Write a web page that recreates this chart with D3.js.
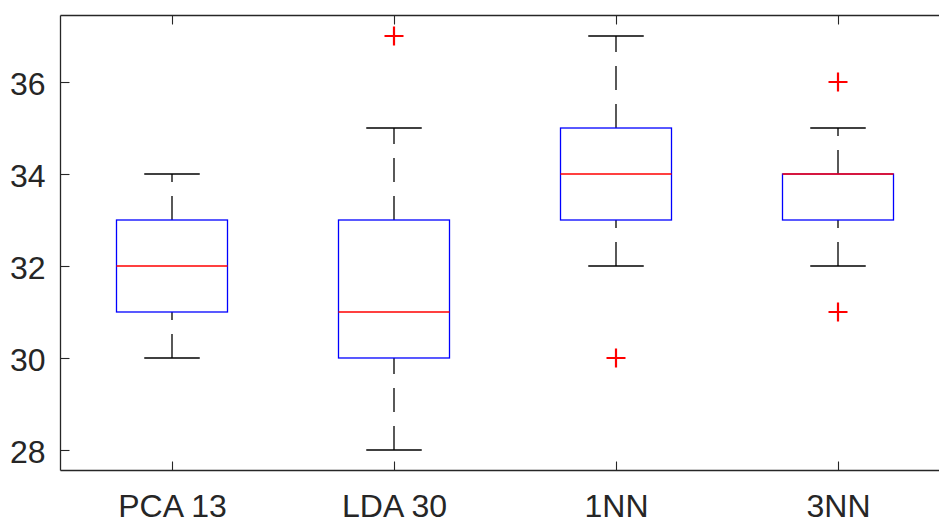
<!DOCTYPE html>
<html>
<head>
<meta charset="utf-8">
<script src="https://cdn.jsdelivr.net/npm/d3@7"></script>
<style>
  html, body { margin: 0; padding: 0; background: #fff; }
  svg { display: block; }
</style>
</head>
<body>
<svg id="chart" width="939" height="518"></svg>
<script>
// ---- data ----
const categories = ["PCA 13", "LDA 30", "1NN", "3NN"];
const whiskerLow = [30, 28, 32, 32];
const q1Values = [31, 30, 33, 33];
const medians = [32, 31, 34, 34];
const q3Values = [33, 33, 35, 34];
const whiskerHigh = [34, 35, 37, 35];
const outliers = [[], [37], [30], [36, 31]];
const yTicks = [28, 30, 32, 34, 36];
const yDomain = [27.554, 37.446];

(function () {
const svg = d3.select("#chart");
const mLeft = 61, mRight = 949, mTop = 15.5, mBottom = 470.5;
const axisColor = "#262626";
const font = "'Liberation Sans', Arial, Helvetica, sans-serif";

const x = d3.scaleLinear().domain([0.5, categories.length + 0.5]).range([mLeft, mRight]);
const y = d3.scaleLinear().domain(yDomain).range([mBottom, mTop]);
const boxHalf = 0.25, capHalf = 0.125;

const data = categories.map((c, i) => ({
  name: c, pos: i + 1,
  lo: whiskerLow[i], q1: q1Values[i], med: medians[i], q3: q3Values[i], hi: whiskerHigh[i],
  out: outliers[i]
}));

// axes
const gx = svg.append("g").attr("transform", `translate(0,${mBottom})`)
  .call(d3.axisBottom(x).tickValues(data.map(d => d.pos)).tickFormat((d, i) => categories[i])
    .tickSizeInner(-9).tickSizeOuter(0).tickPadding(23.5));
const gxTop = svg.append("g").attr("transform", `translate(0,${mTop})`)
  .call(d3.axisTop(x).tickValues(data.map(d => d.pos)).tickFormat("")
    .tickSizeInner(-9).tickSizeOuter(0));
const gy = svg.append("g").attr("transform", `translate(${mLeft - 0.5},0)`)
  .call(d3.axisLeft(y).tickValues(yTicks).tickFormat(d3.format("d"))
    .tickSizeInner(-9).tickSizeOuter(0).tickPadding(15));

[gx, gxTop, gy].forEach(g => {
  g.selectAll(".domain").remove();
  g.selectAll(".tick line").attr("stroke", axisColor).attr("stroke-width", 1.1);
  g.selectAll(".tick text").attr("fill", axisColor)
    .style("font-family", font).style("font-size", "32px");
});
gy.selectAll(".tick text").attr("dy", "0.38em");

// axis frame lines (left, top, bottom)
const frame = svg.append("g").attr("stroke", axisColor).attr("stroke-width", 1.3).attr("fill", "none");
frame.append("line").attr("x1", mLeft - 0.5).attr("x2", mLeft - 0.5).attr("y1", mTop).attr("y2", mBottom);
frame.append("line").attr("x1", mLeft - 0.5).attr("x2", 939).attr("y1", mTop).attr("y2", mTop);
frame.append("line").attr("x1", mLeft - 0.5).attr("x2", 939).attr("y1", mBottom).attr("y2", mBottom);

// boxes
const g = svg.append("g");
const box = g.selectAll("g.box").data(data).join("g").attr("class", "box");

// whiskers (dashed, drawn from lower value to higher value)
box.append("line")
  .attr("x1", d => x(d.pos)).attr("x2", d => x(d.pos))
  .attr("y1", d => y(d.lo)).attr("y2", d => y(d.q1))
  .attr("stroke", "#000").attr("stroke-width", 1.3).attr("stroke-dasharray", "24,14");
box.append("line")
  .attr("x1", d => x(d.pos)).attr("x2", d => x(d.pos))
  .attr("y1", d => y(d.q3)).attr("y2", d => y(d.hi))
  .attr("stroke", "#000").attr("stroke-width", 1.3).attr("stroke-dasharray", "24,14");
// caps
["lo", "hi"].forEach(k => {
  box.append("line")
    .attr("x1", d => x(d.pos - capHalf)).attr("x2", d => x(d.pos + capHalf))
    .attr("y1", d => y(d[k])).attr("y2", d => y(d[k]))
    .attr("stroke", "#000").attr("stroke-width", 1.3);
});
// box rect
box.append("rect")
  .attr("x", d => x(d.pos - boxHalf)).attr("width", d => x(d.pos + boxHalf) - x(d.pos - boxHalf))
  .attr("y", d => y(d.q3)).attr("height", d => y(d.q1) - y(d.q3))
  .attr("fill", "none").attr("stroke", "#0000ff").attr("stroke-width", 1.3);
// median
box.append("line")
  .attr("x1", d => x(d.pos - boxHalf)).attr("x2", d => x(d.pos + boxHalf))
  .attr("y1", d => y(d.med)).attr("y2", d => y(d.med))
  .attr("stroke", "#ff0000").attr("stroke-width", 1.3);
// outliers
const ps = 9.5;
box.each(function (d) {
  const sel = d3.select(this);
  d.out.forEach(v => {
    const cx = x(d.pos), cy = y(v);
    sel.append("path")
      .attr("d", `M${cx - ps},${cy}H${cx + ps}M${cx},${cy - ps}V${cy + ps}`)
      .attr("stroke", "#ff0000").attr("stroke-width", 2.2).attr("fill", "none");
  });
});
})();
</script>
</body>
</html>
